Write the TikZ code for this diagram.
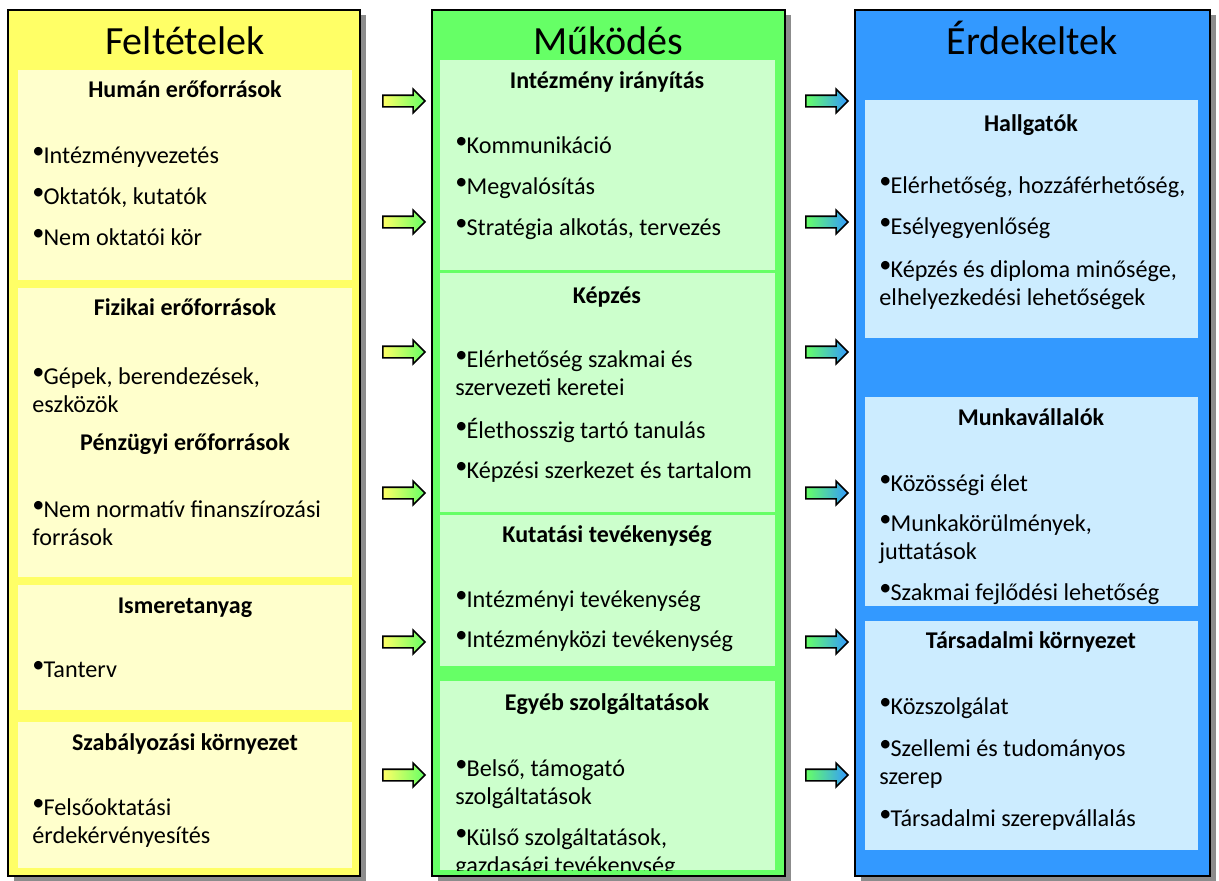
\documentclass[tikz,border=0pt]{standalone}
\usepackage{fontspec}
\setmainfont{Carlito}
\usepackage{tikz}
\usetikzlibrary{shapes.arrows, shadows, positioning}

\definecolor{feltOut}{HTML}{FFFF66}
\definecolor{feltIn}{HTML}{FFFFCC}
\definecolor{mukOut}{HTML}{66FF66}
\definecolor{mukIn}{HTML}{CCFFCC}
\definecolor{erdOut}{HTML}{3399FF}
\definecolor{erdIn}{HTML}{CCECFF}

\newcommand{\bul}{\makebox[5.6pt][l]{\raisebox{.42ex}{\textbullet}}}

\begin{document}
\begin{tikzpicture}[x=0.5pt, y=-0.5pt,
    column/.style={draw=black, line width=1pt, drop shadow={shadow xshift=3pt, shadow yshift=-2.5pt, fill=black!45, opacity=1}},
    title/.style={font=\fontsize{20}{22}\selectfont, anchor=base, inner sep=0},
    head/.style={font=\fontsize{12}{14}\selectfont\bfseries, anchor=base, inner sep=0},
    item/.style={font=\fontsize{12.1}{14}\selectfont, anchor=base west, inner sep=0, align=left},
    arr/.style={single arrow, draw=black, line width=0.8pt, minimum height=21pt, single arrow head extend=3pt, single arrow head indent=0pt, inner sep=2.5pt},
    inarr/.style={arr, left color=feltOut, right color=mukOut},
    outarr/.style={arr, left color=mukOut, right color=erdOut}
]
    \useasboundingbox (0,0) rectangle (1219,880);

    % Columns
    \draw[column, fill=feltOut] (8,10) rectangle (360,876);
    \draw[column, fill=mukOut] (432,10) rectangle (785,876);
    \draw[column, fill=erdOut] (855,10) rectangle (1210,876);

    % Panels: Feltetelek
    \fill[feltIn] (18,70) rectangle (352,280);
    \fill[feltIn] (18,288) rectangle (352,577);
    \fill[feltIn] (18,585) rectangle (352,710);
    \fill[feltIn] (18,722) rectangle (352,868);

    % Panels: Mukodes
    \fill[mukIn] (440,60) rectangle (775,270);
    \fill[mukIn] (440,273) rectangle (775,512);
    \fill[mukIn] (440,515) rectangle (775,666);
    \fill[mukIn] (440,681) rectangle (775,870);

    % Panels: Erdekeltek
    \fill[erdIn] (865,100) rectangle (1198,338);
    \fill[erdIn] (865,397) rectangle (1198,606);
    \fill[erdIn] (865,621) rectangle (1198,850);

    % Titles
    \node[title] (feltTitle) at (185,54) {Feltételek};
    \node[title] (mukTitle) at (608,54) {Működés};
    \node[title] (erdTitle) at (1032,54) {Érdekeltek};

    % Feltetelek (two-line items sit on their last baseline)
    \node[head] (human) at (185,97) {Humán erőforrások};
    \node[item] (human1) at (32,163) {\bul Intézményvezetés};
    \node[item] (human2) at (32,204) {\bul Oktatók, kutatók};
    \node[item] (human3) at (32,245) {\bul Nem oktatói kör};
    \node[head] (fizikai) at (185,315) {Fizikai erőforrások};
    \node[item] (fizikai1) at (32,412) {\bul Gépek, berendezések,\\eszközök};
    \node[head] (penz) at (185,450) {Pénzügyi erőforrások};
    \node[item] (penz1) at (32,545) {\bul Nem normatív finanszírozási\\források};
    \node[head] (ismeret) at (185,613) {Ismeretanyag};
    \node[item] (ismeret1) at (32,677) {\bul Tanterv};
    \node[head] (szabaly) at (185,750) {Szabályozási környezet};
    \node[item] (szabaly1) at (32,843) {\bul Felsőoktatási\\érdekérvényesítés};

    % Mukodes
    \node[head] (iranyitas) at (607,88) {Intézmény irányítás};
    \node[item] (iranyitas1) at (455,153) {\bul Kommunikáció};
    \node[item] (iranyitas2) at (455,194) {\bul Megvalósítás};
    \node[item] (iranyitas3) at (455,235) {\bul Stratégia alkotás, tervezés};
    \node[head] (kepzes) at (607,303) {Képzés};
    \node[item] (kepzes1) at (455,395) {\bul Elérhetőség szakmai és\\szervezeti keretei};
    \node[item] (kepzes2) at (455,438) {\bul Élethosszig tartó tanulás};
    \node[item] (kepzes3) at (455,478) {\bul Képzési szerkezet és tartalom};
    \node[head] (kutatas) at (607,542) {Kutatási tevékenység};
    \node[item] (kutatas1) at (455,607) {\bul Intézményi tevékenység};
    \node[item] (kutatas2) at (455,647) {\bul Intézményközi tevékenység};
    \node[head] (egyeb) at (607,710) {Egyéb szolgáltatások};
    \node[item] (egyeb1) at (455,804) {\bul Belső, támogató\\szolgáltatások};
    \begin{scope}
        \clip (440,681) rectangle (775,870);
        \node[item] (egyeb2) at (455,873) {\bul Külső szolgáltatások,\\gazdasági tevékenység};
    \end{scope}

    % Erdekeltek
    \node[head] (hallgatok) at (1031,131) {Hallgatók};
    \node[item] (hallgatok1) at (879,193) {\bul Elérhetőség, hozzáférhetőség,};
    \node[item] (hallgatok2) at (879,234) {\bul Esélyegyenlőség};
    \node[item] (hallgatok3) at (879,305) {\bul Képzés és diploma minősége,\\elhelyezkedési lehetőségek};
    \node[head] (munka) at (1031,425) {Munkavállalók};
    \node[item] (munka1) at (879,491) {\bul Közösségi élet};
    \node[item] (munka2) at (879,559) {\bul Munkakörülmények,\\juttatások};
    \begin{scope}
        \clip (865,397) rectangle (1198,606);
        \node[item] (munka3) at (879,600) {\bul Szakmai fejlődési lehetőség};
    \end{scope}
    \node[head] (tars) at (1031,648) {Társadalmi környezet};
    \node[item] (tars1) at (879,714) {\bul Közszolgálat};
    \node[item] (tars2) at (879,784) {\bul Szellemi és tudományos\\szerep};
    \node[item] (tars3) at (879,826) {\bul Társadalmi szerepvállalás};

    % Arrows
    \foreach \y [count=\i] in {101,222,352,493,642,775} {
        \node[inarr] (in\i) at (401,\y) {};
        \node[outarr] (out\i) at (824,\y) {};
    }
\end{tikzpicture}
\end{document}
